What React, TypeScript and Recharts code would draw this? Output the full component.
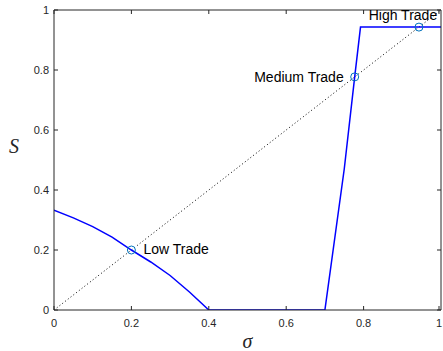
import { ComposedChart, Line, Scatter, XAxis, YAxis, Label } from "recharts"

const sigmaTicks = [0, 0.2, 0.4, 0.6, 0.8, 1]
const sTicks = [0, 0.2, 0.4, 0.6, 0.8, 1]

// S as a function of sigma
const curveSigma = [0, 0.05, 0.1, 0.15, 0.2, 0.25, 0.3, 0.35, 0.4, 0.7, 0.75, 0.777, 0.792, 1]
const curveS = [0.333, 0.307, 0.278, 0.243, 0.2, 0.16, 0.115, 0.06, 0, 0, 0.47, 0.777, 0.943, 0.943]

// 45 degree reference line S = sigma
const diagSigma = [0, 1]
const diagS = [0, 1]

const tradeNames = ["Low Trade", "Medium Trade", "High Trade"]
const tradeSigma = [0.2, 0.777, 0.943]
const tradeS = [0.2, 0.777, 0.943]

const labelPlacement: Record<string, { dx: number; dy: number; anchor: string }> = {
  "Low Trade": { dx: 12, dy: 4, anchor: "start" },
  "Medium Trade": { dx: -11, dy: 5, anchor: "end" },
  "High Trade": { dx: -16, dy: -7, anchor: "middle" },
}

const curve = curveSigma.map((x, i) => ({ x, y: curveS[i] }))
const diagonal = diagSigma.map((x, i) => ({ x, y: diagS[i] }))
const trades = tradeNames.map((name, i) => ({ name, x: tradeSigma[i], y: tradeS[i] }))

const AXIS = "#262626"
const SANS = "'Liberation Sans', Arial, Helvetica, sans-serif"
const SERIF = "'Liberation Serif', 'Times New Roman', serif"
const TICK_LEN = 4

const BottomTick = ({ x, y, payload }: any) => (
  <g>
    <line x1={x} y1={y} x2={x} y2={y - TICK_LEN} stroke={AXIS} strokeWidth={1} />
    <text x={x} y={y + 17} textAnchor="middle" fontSize={11} fontFamily={SANS} fill={AXIS}>
      {String(payload.value)}
    </text>
  </g>
)

const TopTick = ({ x, y }: any) => (
  <line x1={x} y1={y} x2={x} y2={y + TICK_LEN} stroke={AXIS} strokeWidth={1} />
)

const LeftTick = ({ x, y, payload }: any) => (
  <g>
    <line x1={x} y1={y} x2={x + TICK_LEN} y2={y} stroke={AXIS} strokeWidth={1} />
    <text x={x - 5} y={y + 4} textAnchor="end" fontSize={11} fontFamily={SANS} fill={AXIS}>
      {String(payload.value)}
    </text>
  </g>
)

const RightTick = ({ x, y }: any) => (
  <line x1={x} y1={y} x2={x - TICK_LEN} y2={y} stroke={AXIS} strokeWidth={1} />
)

const TradeMarker = ({ cx, cy, payload }: any) => {
  const p = labelPlacement[payload.name]
  return (
    <g>
      <circle cx={cx} cy={cy} r={4} fill="none" stroke="#0072bd" strokeWidth={1} />
      <text
        x={cx + p.dx}
        y={cy + p.dy}
        textAnchor={p.anchor}
        fontSize={14}
        fontFamily={SANS}
        fill="#000"
      >
        {payload.name}
      </text>
    </g>
  )
}

export default function App() {
  return (
    <div style={{ position: "absolute", left: 0, top: 0, background: "#fff" }}>
      <ComposedChart width={443} height={351} margin={{ top: 9, right: 1, bottom: 0, left: 0 }}>
        <XAxis
          dataKey="x"
          type="number"
          domain={[0, 1]}
          ticks={sigmaTicks}
          height={41}
          tickSize={0}
          tickMargin={0}
          tick={<BottomTick />}
          axisLine={{ stroke: AXIS }}
          allowDataOverflow
        >
          <Label
            content={({ viewBox }: any) => (
              <text
                x={viewBox.x + viewBox.width / 2}
                y={viewBox.y + 38}
                textAnchor="middle"
                fontSize={20}
                fontStyle="italic"
                fontFamily={SERIF}
                fill={AXIS}
              >
                σ
              </text>
            )}
          />
        </XAxis>
        {/* top and right axes only carry the box edge and inward ticks */}
        <XAxis
          xAxisId="top"
          dataKey="x"
          orientation="top"
          type="number"
          domain={[0, 1]}
          ticks={sigmaTicks}
          height={1}
          tickSize={0}
          tickMargin={0}
          tick={<TopTick />}
          axisLine={{ stroke: AXIS }}
          allowDataOverflow
        />
        <YAxis
          type="number"
          domain={[0, 1]}
          ticks={sTicks}
          width={54}
          tickSize={0}
          tickMargin={0}
          tick={<LeftTick />}
          axisLine={{ stroke: AXIS }}
          allowDataOverflow
        >
          <Label
            content={({ viewBox }: any) => (
              <text
                x={14}
                y={viewBox.y + 143}
                textAnchor="middle"
                fontSize={20}
                fontStyle="italic"
                fontFamily={SERIF}
                fill={AXIS}
              >
                S
              </text>
            )}
          />
        </YAxis>
        <YAxis
          yAxisId="right"
          orientation="right"
          type="number"
          domain={[0, 1]}
          ticks={sTicks}
          width={1}
          tickSize={0}
          tickMargin={0}
          tick={<RightTick />}
          axisLine={{ stroke: AXIS }}
          allowDataOverflow
        />
        <Line
          data={diagonal}
          dataKey="y"
          xAxisId="top"
          yAxisId="right"
          stroke="#000"
          strokeWidth={1}
          strokeDasharray="1 2.5"
          dot={false}
          isAnimationActive={false}
        />
        <Line
          data={curve}
          dataKey="y"
          stroke="#0000ff"
          strokeWidth={1.5}
          dot={false}
          isAnimationActive={false}
        />
        <Scatter data={trades} dataKey="y" shape={<TradeMarker />} isAnimationActive={false} />
      </ComposedChart>
    </div>
  )
}
